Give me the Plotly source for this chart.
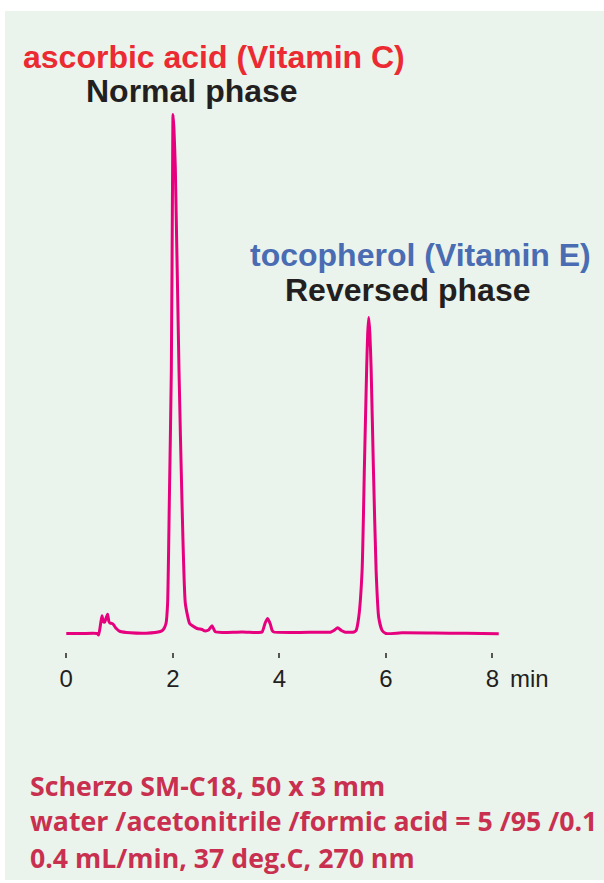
"""
Chromatogram: ascorbic acid and tocopherol on Scherzo SM-C18
"""

import plotly.graph_objects as go

# retention time (min) and detector signal (arbitrary units, baseline = 0)
time_min = [
    0.00, 0.30, 0.58, 0.607, 0.64, 0.670, 0.695, 0.719, 0.745, 0.776,
    0.80, 0.826, 0.86, 0.888, 0.933, 1.014, 1.20, 1.50, 1.765, 1.822,
    1.872, 1.902, 1.934, 1.972, 1.996, 2.004, 2.021, 2.047, 2.116, 2.173,
    2.235, 2.315, 2.361, 2.454, 2.548, 2.592, 2.672, 2.736, 2.798, 2.948,
    3.30, 3.60, 3.675, 3.737, 3.780, 3.831, 3.863, 3.894, 4.30, 4.70,
    4.958, 5.023, 5.095, 5.164, 5.239, 5.40, 5.440, 5.489, 5.553, 5.596,
    5.639, 5.658, 5.677, 5.699, 5.722, 5.765, 5.816, 5.865, 5.929, 6.00,
    6.30, 6.90, 7.50, 8.118,
]
signal = [
    0.0, 0.0, 0.0, -1.5, 8, 17.7, 12, 11.3, 15, 19.3,
    12, 10.3, 10, 8.7, 5.3, 2.0, 0.7, 0.3, 2.0, 4.0,
    10, 30, 130, 263, 466, 519, 505, 466, 263, 130,
    30, 10, 8, 5, 4, 2.7, 3.5, 7.7, 1.7, 1.0,
    1.5, 1.0, 1.5, 11, 15, 9.3, 3.3, 1.5, 1.0, 1.3,
    1.3, 3, 5.7, 3, 1.3, 1.5, 3, 16, 63, 166,
    266, 300, 316, 300, 266, 166, 63, 16, 3, 0,
    0.7, 0.5, 0.2, -0.3,
]

tick_vals = [0, 2, 4, 6, 8]
tick_text = ["0", "2", "4", "6", "8"]

peak_labels = ["ascorbic acid (Vitamin C)", "tocopherol (Vitamin E)"]
phase_labels = ["Normal phase", "Reversed phase"]
condition_lines = [
    "Scherzo SM-C18, 50 x 3 mm",
    "water /acetonitrile /formic acid = 5 /95 /0.1",
    "0.4 mL/min, 37 deg.C, 270 nm",
]

BG = "#eaf4ec"
TRACE = "#e6007e"

# plot area in pixels
W_FIG, H_FIG = 604, 883
L, R, T, B = 13, 5, 20, 231
PW = W_FIG - L - R
PH = H_FIG - T - B


def px_x(px):
    return (px - L) / PW


def px_y(py):
    return (H_FIG - B - py) / PH


fig = go.Figure()

fig.add_trace(
    go.Scatter(
        x=time_min,
        y=signal,
        mode="lines",
        line=dict(color=TRACE, width=3, shape="spline", smoothing=0.5),
        hoverinfo="x+y",
        showlegend=False,
    )
)

bold = "Liberation Sans, Arial, sans-serif"
notes = [
    (peak_labels[0], 21, 57, "#ec2a32"),
    (phase_labels[0], 84, 91, "#231f20"),
    (peak_labels[1], 248, 255, "#4a6cb3"),
    (phase_labels[1], 283, 290, "#231f20"),
]
for text, x, y, color in notes:
    fig.add_annotation(
        text=text, xref="paper", yref="paper", x=px_x(x), y=px_y(y),
        xanchor="left", yanchor="middle", showarrow=False,
        font=dict(family=bold, size=32, color=color, weight="bold"),
    )

fig.add_annotation(
    text="min", xref="paper", yref="paper", x=px_x(508), y=px_y(678),
    xanchor="left", yanchor="middle", showarrow=False,
    font=dict(family=bold, size=24, color="#231f20"),
)

for i, line in enumerate(condition_lines):
    fig.add_annotation(
        text=line, xref="paper", yref="paper", x=px_x(28), y=px_y(785 + 36 * i),
        xanchor="left", yanchor="middle", showarrow=False,
        font=dict(family="Open Sans, Noto Sans, sans-serif", size=26.7,
                  color="#c9304f", weight="bold"),
    )

# light green panel behind everything
fig.add_shape(
    type="rect", xref="paper", yref="paper", layer="below",
    x0=px_x(5), x1=px_x(606), y0=px_y(880), y1=px_y(11),
    fillcolor=BG, line_width=0,
)

fig.update_layout(
    width=W_FIG,
    height=H_FIG,
    margin=dict(l=L, r=R, t=T, b=B),
    paper_bgcolor="white",
    plot_bgcolor=BG,
    xaxis=dict(
        range=[-1, 10],
        tickvals=tick_vals,
        ticktext=tick_text,
        ticks="outside",
        ticklen=5,
        tickwidth=1.5,
        tickcolor="#555555",
        showgrid=False,
        zeroline=False,
        showline=False,
        tickfont=dict(family=bold, size=24, color="#231f20"),
    ),
    yaxis=dict(
        range=[-18.5, 613.5],
        visible=False,
        showgrid=False,
        zeroline=False,
    ),
)

# drop the page's default body margin so the figure sits at the window corner
fig.write_html(
    "out.html",
    config={"displayModeBar": False},
    post_script="document.body.style.margin = '0';",
)
